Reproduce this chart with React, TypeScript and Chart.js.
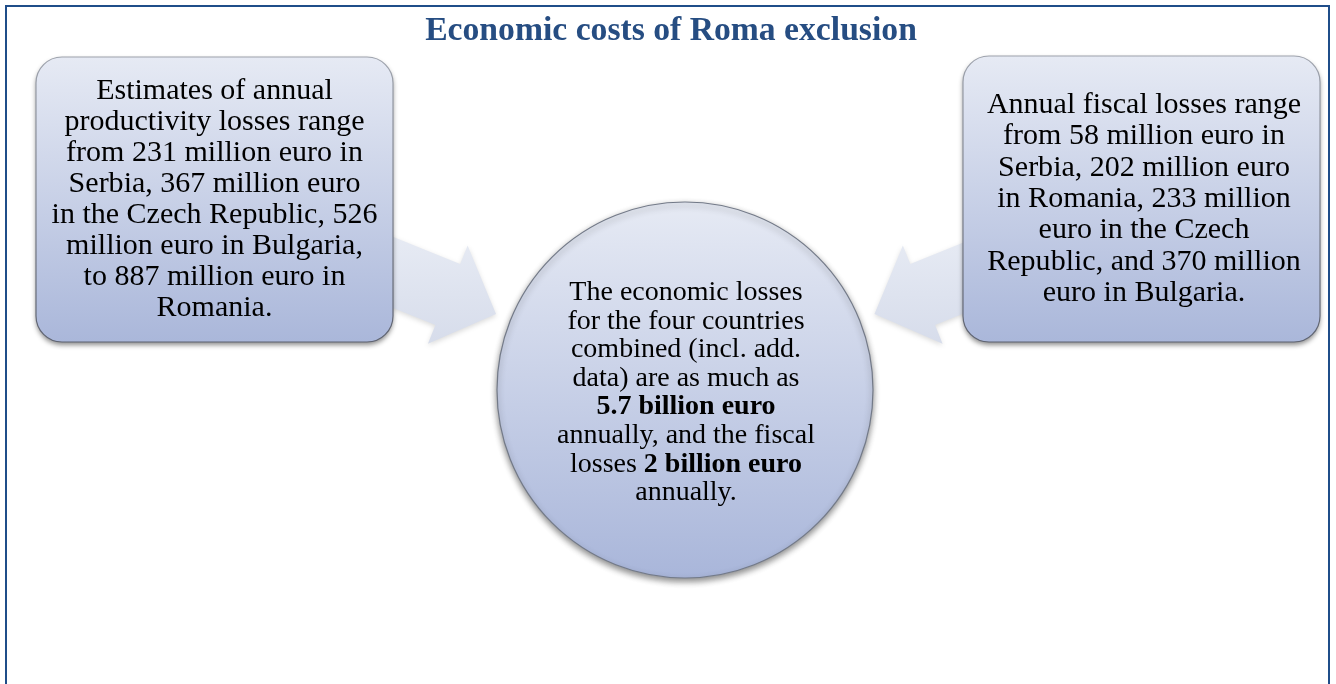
import React, { useEffect, useRef } from "react";
import { Chart, registerables } from "chart.js";

Chart.register(...registerables);

// ---- content ----
const titleText = "Economic costs of Roma exclusion";

const leftBoxLines = [
  "Estimates of annual",
  "productivity losses range",
  "from 231 million euro in",
  "Serbia, 367 million euro",
  "in the Czech Republic, 526",
  "million euro in Bulgaria,",
  "to 887 million euro in",
  "Romania.",
];

const rightBoxLines = [
  "Annual fiscal losses range",
  "from 58 million euro in",
  "Serbia, 202 million euro",
  "in Romania, 233 million",
  "euro in the Czech",
  "Republic, and 370 million",
  "euro in Bulgaria.",
];

type Seg = { t: string; b?: boolean };
const circleLines: Seg[][] = [
  [{ t: "The economic losses" }],
  [{ t: "for the four countries" }],
  [{ t: "combined (incl. add." }],
  [{ t: "data) are as much as" }],
  [{ t: "5.7 billion euro", b: true }],
  [{ t: "annually, and the fiscal" }],
  [{ t: "losses " }, { t: "2 billion euro", b: true }],
  [{ t: "annually." }],
];

// central node (bubble) in page units
const circleNode = [{ x: 685, y: 390, r: 188 }];

// ---- layout (page units, 1 unit = 1 px) ----
const W = 1336;
const H = 684;
const FONT = '"Liberation Serif", "DejaVu Serif", serif';
const leftBox = { x0: 36, y0: 57, x1: 393, y1: 342, rad: 26 };
const rightBox = { x0: 963, y0: 56, x1: 1320, y1: 342, rad: 26 };
const leftArrow = { tipX: 496, tipY: 314, angle: 22, headLen: 52, headHalf: 53, shaftHalf: 33, shaftLen: 90 };

function fitSize(ctx: CanvasRenderingContext2D, text: string, weight: string, target: number) {
  ctx.font = `${weight} 100px ${FONT}`;
  const w = ctx.measureText(text).width;
  return (100 * target) / w;
}

function drawArrow(ctx: CanvasRenderingContext2D, sx: (v: number) => number, sy: (v: number) => number, a: typeof leftArrow, mirror: boolean) {
  const ang = (a.angle * Math.PI) / 180;
  let ux = Math.cos(ang);
  const uy = Math.sin(ang);
  let tipX = a.tipX;
  if (mirror) {
    ux = -ux;
    tipX = 2 * circleNode[0].x + 0.5 - a.tipX;
  }
  const nx = -uy;
  const ny = ux;
  const bx = tipX - ux * a.headLen;
  const by = a.tipY - uy * a.headLen;
  const tx = bx - ux * a.shaftLen;
  const ty = by - uy * a.shaftLen;
  const pts = [
    [tx + nx * a.shaftHalf, ty + ny * a.shaftHalf],
    [bx + nx * a.shaftHalf, by + ny * a.shaftHalf],
    [bx + nx * a.headHalf, by + ny * a.headHalf],
    [tipX, a.tipY],
    [bx - nx * a.headHalf, by - ny * a.headHalf],
    [bx - nx * a.shaftHalf, by - ny * a.shaftHalf],
    [tx - nx * a.shaftHalf, ty - ny * a.shaftHalf],
  ];
  ctx.save();
  ctx.beginPath();
  pts.forEach(([x, y], i) => (i ? ctx.lineTo(sx(x), sy(y)) : ctx.moveTo(sx(x), sy(y))));
  ctx.closePath();
  const g = ctx.createLinearGradient(0, sy(a.tipY - 80), 0, sy(a.tipY + 40));
  g.addColorStop(0, "#e7ebf4");
  g.addColorStop(1, "#d5dbea");
  ctx.fillStyle = g;
  ctx.shadowColor = "rgba(0,0,0,0.14)";
  ctx.shadowBlur = 5;
  ctx.shadowOffsetY = 2;
  ctx.fill();
  ctx.restore();
}

function drawBox(ctx: CanvasRenderingContext2D, sx: (v: number) => number, sy: (v: number) => number, b: typeof leftBox) {
  const x = sx(b.x0);
  const y = sy(b.y0);
  const w = sx(b.x1) - x;
  const h = sy(b.y1) - y;
  ctx.save();
  ctx.beginPath();
  ctx.roundRect(x, y, w, h, b.rad);
  const g = ctx.createLinearGradient(0, y, 0, y + h);
  g.addColorStop(0, "#e6eaf4");
  g.addColorStop(1, "#aab7da");
  ctx.fillStyle = g;
  ctx.shadowColor = "rgba(0,0,0,0.45)";
  ctx.shadowBlur = 5;
  ctx.shadowOffsetY = 3;
  ctx.fill();
  ctx.shadowColor = "transparent";
  const sg = ctx.createLinearGradient(0, y, 0, y + h);
  sg.addColorStop(0, "#9ea3ad");
  sg.addColorStop(1, "#5d6270");
  ctx.strokeStyle = sg;
  ctx.lineWidth = 1.2;
  ctx.stroke();
  ctx.restore();
}

function drawLines(ctx: CanvasRenderingContext2D, lines: string[], cx: number, base: number, lh: number, size: number) {
  ctx.save();
  ctx.fillStyle = "#000";
  ctx.textAlign = "center";
  ctx.textBaseline = "alphabetic";
  ctx.font = `400 ${size}px ${FONT}`;
  lines.forEach((l, i) => ctx.fillText(l, cx, base + i * lh));
  ctx.restore();
}

const diagramPlugin = {
  id: "diagram",
  beforeDatasetsDraw(chart: any) {
    const { ctx, scales } = chart;
    const sx = (v: number) => scales.x.getPixelForValue(v);
    const sy = (v: number) => scales.y.getPixelForValue(v);

    ctx.save();
    ctx.fillStyle = "#ffffff";
    ctx.fillRect(0, 0, chart.width, chart.height);
    // frame
    ctx.strokeStyle = "#1f4d89";
    ctx.lineWidth = 2;
    ctx.beginPath();
    ctx.moveTo(sx(6), sy(700));
    ctx.lineTo(sx(6), sy(6));
    ctx.lineTo(sx(1329), sy(6));
    ctx.lineTo(sx(1329), sy(700));
    ctx.stroke();
    // title
    const ts = fitSize(ctx, titleText, "700", 492);
    ctx.font = `700 ${ts}px ${FONT}`;
    ctx.fillStyle = "#264d82";
    ctx.textAlign = "center";
    ctx.fillText(titleText, sx(671), sy(40));
    ctx.restore();

    drawArrow(ctx, sx, sy, leftArrow, false);
    drawArrow(ctx, sx, sy, leftArrow, true);
    drawBox(ctx, sx, sy, leftBox);
    drawBox(ctx, sx, sy, rightBox);

    const bs = fitSize(ctx, "in the Czech Republic, 526", "400", 326);
    drawLines(ctx, leftBoxLines, sx(214.5), sy(99), 31, bs);
    drawLines(ctx, rightBoxLines, sx(1144), sy(113), 31.3, bs);

    // shadow for the central bubble
    ctx.save();
    ctx.shadowColor = "rgba(0,0,0,0.45)";
    ctx.shadowBlur = 6;
    ctx.shadowOffsetY = 3;
  },
  afterDatasetsDraw(chart: any) {
    const { ctx, scales } = chart;
    ctx.restore();
    const sx = (v: number) => scales.x.getPixelForValue(v);
    const sy = (v: number) => scales.y.getPixelForValue(v);
    const cs = fitSize(ctx, "annually, and the fiscal", "400", 258);
    ctx.save();
    ctx.fillStyle = "#000";
    ctx.textAlign = "left";
    circleLines.forEach((segs, i) => {
      let total = 0;
      segs.forEach((s) => {
        ctx.font = `${s.b ? 700 : 400} ${cs}px ${FONT}`;
        total += ctx.measureText(s.t).width;
      });
      let x = sx(686) - total / 2;
      const y = sy(300 + i * 28.6);
      segs.forEach((s) => {
        ctx.font = `${s.b ? 700 : 400} ${cs}px ${FONT}`;
        ctx.fillText(s.t, x, y);
        x += ctx.measureText(s.t).width;
      });
    });
    ctx.restore();
  },
};

export default function App() {
  const ref = useRef<HTMLCanvasElement | null>(null);
  useEffect(() => {
    document.body.style.margin = "0";
    if (!ref.current) return;
    const chart = new Chart(ref.current, {
      type: "bubble",
      data: {
        datasets: [
          {
            data: circleNode,
            backgroundColor: (c: any) => {
              const ch = c.chart;
              const y = ch.scales && ch.scales.y;
              const n = circleNode[0];
              if (!y || !ch.chartArea) return "#c6cfe6";
              const y0 = y.getPixelForValue(n.y - n.r);
              const y1 = y.getPixelForValue(n.y + n.r);
              if (!Number.isFinite(y0) || !Number.isFinite(y1)) return "#c6cfe6";
              const g = ch.ctx.createLinearGradient(0, y0, 0, y1);
              g.addColorStop(0, "#e6eaf4");
              g.addColorStop(1, "#a9b6da");
              return g;
            },
            borderColor: "#737a88",
            borderWidth: 1.2,
            hoverRadius: 0,
            clip: false,
          } as any,
        ],
      },
      options: {
        animation: false,
        responsive: true,
        maintainAspectRatio: false,
        events: [],
        layout: { padding: 0, autoPadding: false },
        plugins: { legend: { display: false }, tooltip: { enabled: false }, title: { display: false } },
        scales: {
          x: { type: "linear", min: 0, max: W, display: false },
          y: { type: "linear", min: 0, max: H, reverse: true, display: false },
        },
      },
      plugins: [diagramPlugin],
    });
    return () => chart.destroy();
  }, []);
  return (
    <div style={{ width: W, height: H, position: "relative" }}>
      <canvas ref={ref} />
    </div>
  );
}
